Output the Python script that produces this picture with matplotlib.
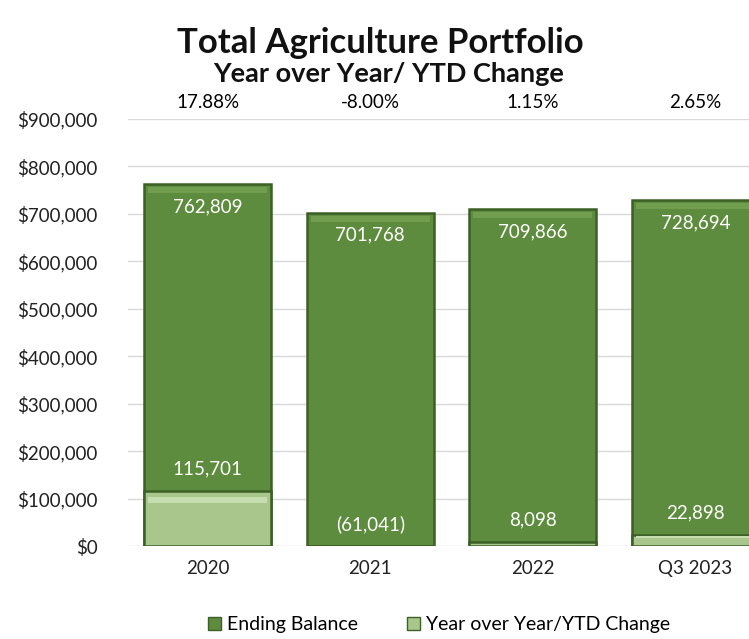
import matplotlib.pyplot as plt
from matplotlib.ticker import FuncFormatter
from matplotlib.patches import Patch

categorias = ['2020', '2021', '2022', 'Q3 2023']
saldo_final = [762809, 701768, 709866, 728694]
variacao = [115701, -61041, 8098, 22898]
percentual = ['17.88%', '-8.00%', '1.15%', '2.65%']

verde = '#5E8C3E'
verde_borda = '#3B5F25'
verde_claro = '#A9C78C'

plt.rcParams['font.family'] = ['Lato', 'DejaVu Sans']

fig = plt.figure(figsize=(7.49, 6.39), dpi=100)
ax = fig.add_axes([0.171, 0.1455, 0.829, 0.6683])

x = list(range(len(categorias)))
largura = 0.78

# barra do saldo final, com borda escura imitando o chanfro
ax.bar(x, saldo_final, width=largura, color=verde, edgecolor=verde_borda,
       linewidth=1.8, zorder=3)
# faixa clara no topo de cada barra
ax.bar(x, [12000] * 4, bottom=[s - 18000 for s in saldo_final], width=largura - 0.05,
       color='#78A655', linewidth=0, zorder=4, alpha=0.7)

# variacao anual (valores negativos ficam abaixo do eixo)
pos = [max(v, 0) for v in variacao]
ax.bar(x, pos, width=largura, color=verde_claro, edgecolor=verde_borda,
       linewidth=1.8, zorder=5)
ax.bar(x, [p * 0.12 if p > 20000 else 0 for p in pos],
       bottom=[p * 0.78 for p in pos], width=largura - 0.05,
       color='#C6DDB0', linewidth=0, zorder=6)

for i in x:
    ax.text(i, saldo_final[i] - 47000, f'{saldo_final[i]:,}', ha='center', va='center',
            color='white', fontsize=13.5, zorder=7)
    v = variacao[i]
    rotulo = f'({abs(v):,})' if v < 0 else f'{v:,}'
    ax.text(i, max(v, 0) + 47000, rotulo, ha='center', va='center',
            color='white', fontsize=13.5, zorder=7)
    ax.text(i, 935000, percentual[i], ha='center', va='center', color='black',
            fontsize=13.5, clip_on=False)

ax.set_ylim(0, 900000)
ax.set_xlim(-0.49, 3.33)
ax.set_yticks(range(0, 900001, 100000))
ax.yaxis.set_major_formatter(FuncFormatter(lambda v, p: f'${v:,.0f}'))
ax.set_xticks(x)
ax.set_xticklabels(categorias)
ax.tick_params(axis='both', length=0, labelsize=13.5, colors='#222222')
ax.tick_params(axis='x', pad=10)
ax.tick_params(axis='y', pad=22)
ax.grid(axis='y', color='#D9D9D9', linewidth=1, zorder=0)
for lado in ['top', 'right', 'left', 'bottom']:
    ax.spines[lado].set_visible(False)

fig.text(0.508, 0.933, 'Total Agriculture Portfolio', ha='center', va='center',
         fontsize=25, fontweight='bold', color='#111111')
fig.text(0.519, 0.884, 'Year over Year/ YTD Change', ha='center', va='center',
         fontsize=19.5, fontweight='bold', color='#111111')

legenda = [Patch(facecolor=verde, edgecolor=verde_borda, label='Ending Balance'),
           Patch(facecolor=verde_claro, edgecolor=verde_borda, label='Year over Year/YTD Change')]
fig.legend(handles=legenda, loc='center', bbox_to_anchor=(0.586, 0.022), ncol=2,
           frameon=False, fontsize=14, handlelength=0.7, handleheight=0.7,
           handletextpad=0.3, columnspacing=2.5)

fig.savefig('out.png', dpi=100)
